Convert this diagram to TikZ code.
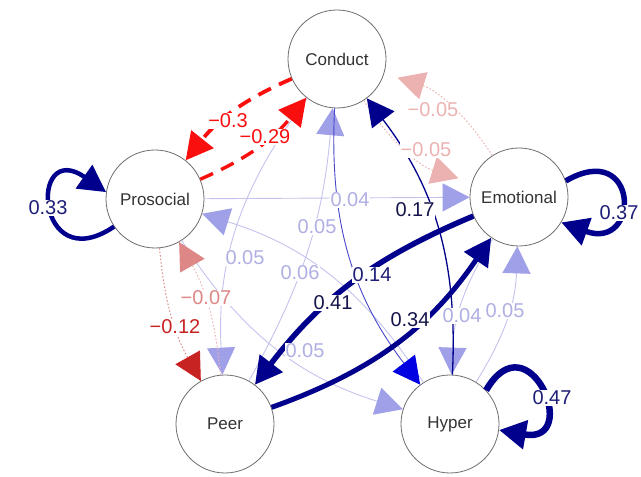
\documentclass[tikz,border=0pt]{standalone}
\usepackage{fontspec}
\setmainfont{Liberation Sans}
\usetikzlibrary{arrows.meta}

\definecolor{ring}{RGB}{110,110,110}
\definecolor{navy}{RGB}{0,0,140}
\definecolor{midblue}{RGB}{0,0,225}
\definecolor{midline}{RGB}{70,70,200}
\definecolor{palearrow}{RGB}{160,160,232}
\definecolor{paleline}{RGB}{195,195,238}
\definecolor{palelab}{RGB}{175,175,228}
\definecolor{negred}{RGB}{250,15,15}
\definecolor{darkred}{RGB}{200,35,35}
\definecolor{pinkA}{RGB}{222,135,135}
\definecolor{pinkB}{RGB}{236,178,178}
\definecolor{navylab}{RGB}{30,30,120}
\definecolor{darklab}{RGB}{20,20,75}

\newcommand{\nodefont}{\fontsize{17}{20}\selectfont}
\newcommand{\labfont}{\fontsize{20}{24}\selectfont}

\begin{document}
\begin{tikzpicture}[x=10pt, y=10pt,
    item/.style={circle, draw=ring, line width=0.8pt, fill=white, text=black!80,
                 minimum size=98pt, inner sep=0pt, font=\nodefont},
    wt/.style={font=\labfont, fill=white, inner sep=0.5pt},
    link/.style={-{Triangle[length=27pt, width=28pt, color=#1]}},
    weak/.style={draw=paleline, line width=0.9pt, link=palearrow},
    negdash/.style={draw=negred, line width=3.8pt, dash pattern=on 14pt off 9pt, link=negred},
    negdot/.style={draw=#1, line width=1pt, dash pattern=on 1.5pt off 2pt},
    selfloop/.style={draw=navy, link=navy}]
  \useasboundingbox (0,0) rectangle (64.1,47.7);

  % variables
  \node [item] (cond) at (33.7,41.8) {Conduct};
  \node [item] (pro)  at (15.5,27.8) {Prosocial};
  \node [item] (emo)  at (51.9,28.0) {Emotional};
  \node [item] (peer) at (22.5,5.3)  {Peer};
  \node [item] (hyp)  at (45.0,5.3)  {Hyper};

  % weak positive edges
  \draw [weak] (pro) -- (emo);
  \draw [weak] (peer) to[bend right=12] (cond);
  \draw [weak] (cond) to[bend right=20] (peer);
  \draw [weak] (hyp) to[bend right=20] (pro);
  \draw [weak] (pro) to[bend right=20] (hyp);
  \draw [weak] (emo) to[bend right=15] (hyp);
  \draw [weak] (hyp) to[bend right=15] (emo);

  % negative edges
  \draw [negdot=pinkB, link=pinkB, shorten >=14pt] (emo) to[bend right=20] (cond);
  \draw [negdot=pinkB, link=pinkB, shorten >=14pt] (cond) to[bend right=20] (emo);
  \draw [negdot=pinkB, link=pinkA] (peer) to[bend right=12] (pro);
  \draw [negdot=pinkA, link=darkred] (pro) to[bend right=12] (peer);
  \draw [negdash] (cond) to[bend right=14] (pro);
  \draw [negdash, line width=3.4pt] (pro) to[bend right=14] (cond);

  % stronger positive edges
  \draw [draw=midline, line width=0.9pt, link=midblue] (cond) to[bend right=20] (hyp);
  \draw [draw=navy, line width=1.3pt, link=navy] (hyp) to[bend right=20] (cond);
  \draw [draw=navy, line width=5pt, link=navy] (peer) to[bend right=18] (emo);
  \draw [draw=navy, line width=5.5pt, link=navy] (emo) to[bend right=15] (peer);

  % self loops
  \draw [selfloop, line width=4.5pt] (pro.214) to[out=214, in=145, min distance=95pt] (pro.172);
  \draw [selfloop, line width=5.5pt] (emo.19) to[out=30, in=-20, min distance=85pt] (emo.-31);
  \draw [selfloop, line width=6.5pt] (hyp.43) to[out=60, in=-10, min distance=85pt] (hyp.-7);

  % weights
  \node [wt, text=negred] (w1) at (22.8,35.6) {−0.3};
  \node [wt, text=negred] (w2) at (26.5,34.0) {−0.29};
  \node [wt, text=pinkB] (w3) at (43.3,36.7) {−0.05};
  \node [wt, text=pinkB] (w4) at (42.6,32.7) {−0.05};
  \node [wt, text=palelab] (w5) at (35.0,27.7) {0.04};
  \node [wt, text=darklab] (w6) at (41.5,26.7) {0.17};
  \node [wt, text=palelab] (w7) at (31.7,25.0) {0.05};
  \node [wt, text=palelab] (w8) at (24.5,21.9) {0.05};
  \node [wt, text=palelab] (w9) at (30.0,20.4) {0.06};
  \node [wt, text=navylab] (w10) at (37.2,20.2) {0.14};
  \node [wt, text=darklab] (w11) at (33.3,17.4) {0.41};
  \node [wt, text=darklab] (w12) at (41.0,15.7) {0.34};
  \node [wt, text=palelab] (w13) at (30.5,12.6) {0.05};
  \node [wt, text=pinkA] (w14) at (20.6,17.9) {−0.07};
  \node [wt, text=darkred] (w15) at (17.5,15.0) {−0.12};
  \node [wt, text=palelab] (w16) at (46.2,16.1) {0.04};
  \node [wt, text=palelab] (w17) at (50.5,16.6) {0.05};
  \node [wt, text=navylab] (w18) at (4.8,26.9) {0.33};
  \node [wt, text=navylab] (w19) at (61.9,26.4) {0.37};
  \node [wt, text=navylab] (w20) at (55.2,7.9) {0.47};
\end{tikzpicture}
\end{document}
